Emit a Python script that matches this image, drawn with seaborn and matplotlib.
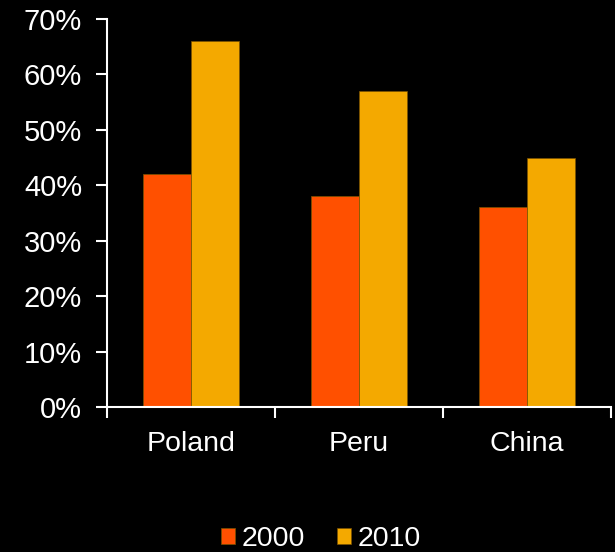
import matplotlib
matplotlib.use("Agg")
import matplotlib.pyplot as plt
from matplotlib.ticker import FixedLocator, PercentFormatter
import seaborn as sns
import pandas as pd

countries = ["Poland", "Peru", "China"]
years = ["2000", "2010"]
share_2000 = [42, 38, 36]
share_2010 = [66, 57, 45]
palette = ["#FF5000", "#F4A900"]

df = pd.DataFrame({
    "country": countries * 2,
    "year": [years[0]] * 3 + [years[1]] * 3,
    "share": share_2000 + share_2010,
})

sns.set_theme(style="white")
plt.rcParams["font.family"] = ["Liberation Sans", "DejaVu Sans"]

fig = plt.figure(figsize=(6.15, 5.52), dpi=100, facecolor="black")
ax = fig.add_axes([0.174, 0.2627, 0.8195, 0.7029])
ax.set_facecolor("black")

sns.barplot(data=df, x="country", y="share", hue="year", palette=palette,
            saturation=1, width=0.572, edgecolor="#7a5200", linewidth=0.5, ax=ax)

ax.set_xlim(-0.5, 2.5)
ax.set_ylim(0, 70)
ax.set_yticks(range(0, 71, 10))
ax.yaxis.set_major_formatter(PercentFormatter(decimals=0))
ax.xaxis.set_minor_locator(FixedLocator([-0.5, 0.5, 1.5, 2.5]))
ax.tick_params(axis="x", which="major", length=0, pad=17, labelsize=20.5, colors="white")
ax.tick_params(axis="x", which="minor", length=8, width=1.5, color="white", bottom=True)
ax.tick_params(axis="y", length=8, width=1.5, color="white", labelcolor="white",
               labelsize=21, pad=10, left=True)
for side in ["top", "right"]:
    ax.spines[side].set_visible(False)
for side in ["left", "bottom"]:
    ax.spines[side].set_color("white")
    ax.spines[side].set_linewidth(1.5)
ax.set_xlabel("")
ax.set_ylabel("")

handles, labels = ax.get_legend_handles_labels()
ax.legend_.remove()
leg = fig.legend(handles, labels, loc="center", bbox_to_anchor=(0.522, 0.024),
                 ncol=2, frameon=False, fontsize=20.5, handlelength=0.5,
                 handleheight=0.5, handletextpad=0.25, columnspacing=1.1,
                 labelcolor="white")

fig.savefig("out.png", dpi=100, facecolor="black")
